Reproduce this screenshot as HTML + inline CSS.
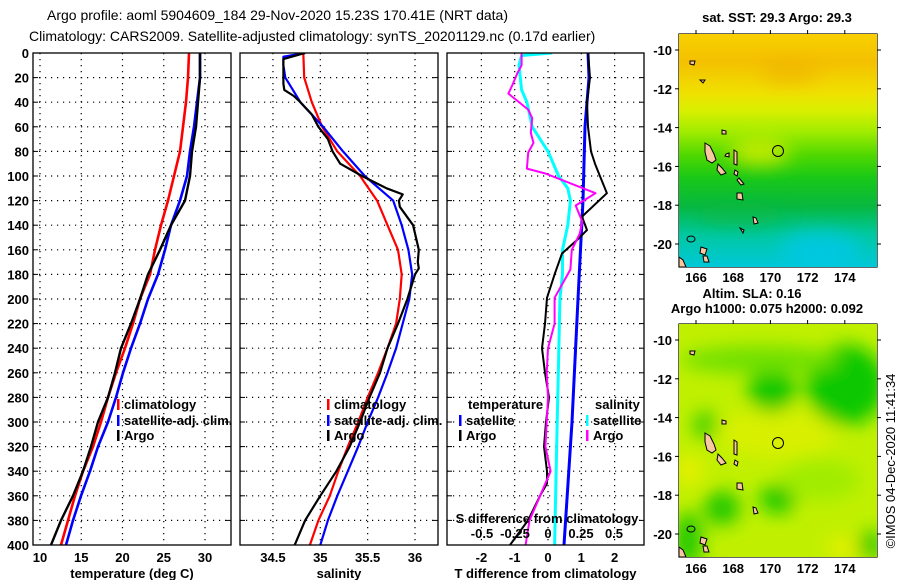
<!DOCTYPE html>
<html><head><meta charset="utf-8">
<style>
html,body{margin:0;padding:0;background:#fff;}
svg{display:block;font-family:"Liberation Sans",Arial,sans-serif;font-weight:bold;font-size:13px;}
</style></head>
<body>
<svg id="fig" width="900" height="580" viewBox="0 0 900 580" xmlns="http://www.w3.org/2000/svg">
<defs>
<clipPath id="c1"><rect x="33" y="53" width="198" height="492"/></clipPath>
<clipPath id="c2"><rect x="240" y="53" width="198" height="492"/></clipPath>
<clipPath id="c3"><rect x="447" y="53" width="197" height="492"/></clipPath>
<clipPath id="cm1"><rect x="679" y="34" width="198" height="233"/></clipPath>
<clipPath id="cm2"><rect x="679" y="324" width="198" height="233"/></clipPath>
<linearGradient id="sst" x1="0" y1="0" x2="0" y2="1">
<stop offset="0" stop-color="#f8d000"/><stop offset="0.12" stop-color="#f4c000"/>
<stop offset="0.25" stop-color="#f0e000"/><stop offset="0.33" stop-color="#d8f000"/>
<stop offset="0.42" stop-color="#a0ec00"/><stop offset="0.52" stop-color="#50d800"/>
<stop offset="0.62" stop-color="#18c818"/><stop offset="0.74" stop-color="#08b840"/>
<stop offset="0.86" stop-color="#00c8a0"/><stop offset="1" stop-color="#00c8d8"/>
</linearGradient>
<filter id="blur" x="-50%" y="-50%" width="200%" height="200%"><feGaussianBlur stdDeviation="9"/></filter>
</defs>

<text x="47" y="20" font-weight="normal" font-size="14">Argo profile: aoml 5904609_184 29-Nov-2020 15.23S 170.41E (NRT data)</text>
<text x="29" y="41" font-weight="normal" font-size="14">Climatology: CARS2009. Satellite-adjusted climatology: synTS_20201129.nc (0.17d earlier)</text>

<g id="grid"></g>
<g id="lines"></g>
<g id="frames"></g>
<g id="labels"></g>

<g>
<rect x="117" y="399" width="2.5" height="11" fill="#f00"/><text x="124" y="409">climatology</text>
<rect x="117" y="415" width="2.5" height="11" fill="#00f"/><text x="124" y="425">satellite-adj. clim.</text>
<rect x="117" y="430" width="2.5" height="11" fill="#000"/><text x="124" y="440">Argo</text>
</g>
<g>
<rect x="327" y="399" width="2.5" height="11" fill="#f00"/><text x="334" y="409">climatology</text>
<rect x="327" y="415" width="2.5" height="11" fill="#00f"/><text x="334" y="425">satellite-adj. clim.</text>
<rect x="327" y="430" width="2.5" height="11" fill="#000"/><text x="334" y="440">Argo</text>
</g>
<g>
<text x="468" y="409">temperature</text><text x="595" y="409">salinity</text>
<rect x="459" y="415" width="2.5" height="11" fill="#00f"/><text x="466" y="425">satellite</text>
<rect x="459" y="430" width="2.5" height="11" fill="#000"/><text x="466" y="440">Argo</text>
<rect x="586" y="415" width="2.5" height="11" fill="#0ff"/><text x="593" y="425">satellite</text>
<rect x="586" y="430" width="2.5" height="11" fill="#f0f"/><text x="593" y="440">Argo</text>
<text x="547" y="523" text-anchor="middle">S difference from climatology</text>
</g>

<g>
<text x="777" y="22" text-anchor="middle">sat. SST: 29.3 Argo: 29.3</text>
<g clip-path="url(#cm1)">
<rect x="679" y="34" width="198" height="233" fill="url(#sst)"/>
<ellipse cx="760" cy="152" rx="30" ry="14" fill="#e8f000" opacity="0.7" filter="url(#blur)"/>
<ellipse cx="790" cy="72" rx="30" ry="12" fill="#f0b000" opacity="0.6" filter="url(#blur)"/>
<ellipse cx="820" cy="250" rx="40" ry="18" fill="#00c8e8" opacity="0.8" filter="url(#blur)"/>
<ellipse cx="740" cy="215" rx="45" ry="12" fill="#08b840" opacity="0.5" filter="url(#blur)"/>
</g>
<g class="isl" fill="#f8c8a0" stroke="#000" stroke-width="1">
<path d="M705,143 L710,146 L714,154 L716,160 L712,163 L707,160 L705,152Z"/>
<path d="M718,164 L722,168 L726,173 L721,175 L717,170Z"/>
<path d="M734,150 L737,152 L737,165 L734,164Z"/>
<path d="M737,193 L742,193 L743,200 L737,199Z"/>
<path d="M753,217 L756,218 L758,223 L754,224Z"/>
<path d="M722,130 L726,131 L726,134 L722,134Z"/>
<path d="M726,154 L729,153 L729,157 L725,156Z"/>
<path d="M735,170 L738,172 L737,176 L734,174Z"/>
<path d="M739,178 L744,184 L741,185 L737,180Z"/>
<path d="M690,61 L695,61 L694,65 L690,64Z"/>
<path d="M700,80 L705,80 L703,83Z"/>
<path d="M703,256 L707,256 L709,262 L704,262Z"/>
<path d="M679,257 L683,260 L686,267 L679,267Z"/>
<path d="M740,228 L744,230 L743,233Z"/>
<path d="M701,247 L707,249 L705,255 L700,253Z"/>
<ellipse cx="691" cy="239" rx="4" ry="3" fill="none"/>
</g>
<circle cx="778" cy="151" r="5.5" fill="none" stroke="#000" stroke-width="1"/>
</g>

<g>
<text x="752" y="298" text-anchor="middle">Altim. SLA: 0.16</text>
<text x="767" y="313" text-anchor="middle">Argo h1000: 0.075 h2000: 0.092</text>
<g clip-path="url(#cm2)">
<rect x="679" y="324" width="198" height="233" fill="#c0f000"/>
<g filter="url(#blur)">
<ellipse cx="778" cy="433" rx="60" ry="25" fill="#d8f000"/>
<ellipse cx="772" cy="390" rx="24" ry="22" fill="#10c800"/>
<ellipse cx="846" cy="385" rx="40" ry="40" fill="#10c800"/>
<ellipse cx="760" cy="360" rx="80" ry="14" fill="#70e000"/>
<ellipse cx="778" cy="499" rx="18" ry="14" fill="#10c800"/>
<ellipse cx="722" cy="508" rx="18" ry="17" fill="#20c800"/>
<ellipse cx="688" cy="540" rx="14" ry="28" fill="#20c800"/>
<ellipse cx="705" cy="425" rx="12" ry="14" fill="#40d000"/>
<ellipse cx="689" cy="470" rx="14" ry="14" fill="#e8f000"/>
<ellipse cx="845" cy="548" rx="18" ry="10" fill="#e8f000"/>
<ellipse cx="870" cy="545" rx="12" ry="14" fill="#20c800"/>
<ellipse cx="820" cy="480" rx="40" ry="20" fill="#a0ec00"/>
</g>
</g>
<g class="isl" fill="#f8c8a0" stroke="#000" stroke-width="1">
<path d="M705,433 L710,436 L714,444 L716,450 L712,453 L707,450 L705,442Z"/>
<path d="M718,454 L722,458 L726,463 L721,465 L717,460Z"/>
<path d="M734,440 L737,442 L737,455 L734,454Z"/>
<path d="M737,483 L742,483 L743,490 L737,489Z"/>
<path d="M753,507 L756,508 L758,513 L754,514Z"/>
<path d="M722,420 L726,421 L726,424 L722,424Z"/>
<path d="M735,460 L738,462 L737,466 L734,464Z"/>
<path d="M690,351 L695,351 L694,355 L690,354Z"/>
<path d="M703,546 L707,546 L709,552 L704,552Z"/>
<path d="M679,547 L683,550 L686,557 L679,557Z"/>
<path d="M701,537 L707,539 L705,545 L700,543Z"/>
<ellipse cx="691" cy="529" rx="4" ry="3" fill="none"/>
</g>
<circle cx="778" cy="443" r="5.5" fill="none" stroke="#000" stroke-width="1"/>
</g>
<text transform="translate(895,461) rotate(-90)" text-anchor="middle" font-weight="normal" font-size="13">©IMOS 04-Dec-2020 11:41:34</text>

<script>
const depthStd = [0,20,40,60,80,100,120,140,160,180,200,220,240,260,280,300,320,340,360,380,400];
const tempClim = [28.06,27.94,27.70,27.33,26.97,26.24,25.52,24.67,23.94,23.33,22.12,21.27,20.30,19.21,18.24,17.39,16.42,15.21,14.24,13.39,12.55];
const tempSat  = [29.39,29.39,29.03,28.67,28.18,27.82,26.97,25.88,25.15,24.30,23.09,22.12,21.03,20.06,19.21,18.24,17.03,16.06,14.97,14.00,13.15];
const tempArgo = [29.39,29.39,29.15,28.91,28.42,28.18,27.58,25.88,24.55,23.09,22.12,21.03,19.82,19.09,18.24,17.03,16.18,15.21,14.00,12.55,11.33];

const salClim = [34.82,34.83,34.91,35.02,35.18,35.42,35.60,35.71,35.82,35.86,35.84,35.80,35.71,35.61,35.50,35.40,35.29,35.19,35.10,34.98,34.89];
const salSatDepth = [0,3,10,20,40,60,80,100,120,140,160,180,200,220,240,260,280,300,320,340,360,380,400];
const salSat = [34.84,34.61,34.61,34.63,34.79,35.03,35.24,35.47,35.77,35.86,35.93,35.97,35.94,35.87,35.80,35.71,35.61,35.50,35.40,35.29,35.18,35.08,35.00];
const salArgoDepth = [0,5,20,25,30,35,40,50,60,70,80,90,100,110,115,120,125,140,160,170,175,180,200,220,240,260,280,300,320,340,360,380,400];
const salArgo = [34.84,34.61,34.61,34.61,34.62,34.72,34.79,34.91,34.98,35.08,35.13,35.21,35.44,35.70,35.87,35.83,35.84,35.98,36.04,36.03,36.04,36.00,35.92,35.82,35.71,35.63,35.52,35.42,35.31,35.17,35.00,34.84,34.73];

const dTSatDepth = [0,20,60,120,200,300,400];
const dTSat = [1.2,1.23,1.11,1.05,0.9,0.72,0.48];
const dTArgoDepth = [0,20,40,60,80,90,100,110,114,133,144,152,163,179,199,220,240,260,280,300,320,340,350,360,380,400];
const dTArgo = [1.2,1.26,1.17,1.2,1.29,1.41,1.56,1.71,1.77,1.02,1.17,0.87,0.42,0.21,-0.03,-0.09,-0.18,-0.09,0.03,-0.06,-0.12,-0.03,-0.03,-0.24,-0.6,-1.14];
const dSSatDepth = [0,2,10,30,40,60,80,100,110,120,140,160,180,200,250,300,350,400];
const dSSat = [0.03,-0.2,-0.22,-0.2,-0.16,-0.12,0.0,0.08,0.15,0.17,0.15,0.11,0.11,0.09,0.08,0.07,0.06,0.05];
const dSArgoDepth = [0,10,16,26,33,46,53,65,73,81,94,98,114,124,132,137,147,160,176,199,220,240,260,280,300,320,340,360,380,400];
const dSArgo = [-0.2,-0.2,-0.23,-0.27,-0.3,-0.15,-0.12,-0.13,-0.11,-0.15,-0.16,-0.02,0.36,0.21,0.24,0.26,0.24,0.18,0.17,0.05,0.05,0.0,-0.01,0.0,-0.01,-0.02,0.02,-0.06,-0.14,-0.17];

const depthTicks = [0,20,40,60,80,100,120,140,160,180,200,220,240,260,280,300,320,340,360,380,400];
const tempTicks = [10,15,20,25,30];
const salTicks = [34.5,35,35.5,36];
const salTickLabels = ["34.5","35","35.5","36"];
const dTTicks = [-2,-1,0,1,2];
const dSTicks = [-0.5,-0.25,0,0.25,0.5];
const dSTickLabels = ["-0.5","-0.25","0","0.25","0.5"];
const lonTicks = [166,168,170,172,174];
const latTicks = [-10,-12,-14,-16,-18,-20];

const yD = d => 53 + d*1.23;
const xT = t => 40 + (t-10)*8.25;
const xS = s => 320.3 + (s-35)*94.7;
const xDT = t => 548 + t*33.3;
const xDS = s => 548 + s*132;
const xLon = l => 696 + (l-166)*18.6;
const yLat1 = l => 50 + (-10-l)*19.4;
const yLat2 = l => 340 + (-10-l)*19.4;

const NS = "http://www.w3.org/2000/svg";
function mk(tag, parent, attrs){ const e=document.createElementNS(NS,tag); for(const k in attrs) e.setAttribute(k,attrs[k]); parent.appendChild(e); return e; }

const grid = document.getElementById('grid');
const lines = document.getElementById('lines');
const frames = document.getElementById('frames');
const labels = document.getElementById('labels');

const panels = [
  {x0:33,w:198,xs:xT,ticks:tempTicks,tl:tempTicks.map(String),title:"temperature (deg C)",name:"temperature"},
  {x0:240,w:198,xs:xS,ticks:salTicks,tl:salTickLabels,title:"salinity",name:"salinity"},
  {x0:447,w:197,xs:xDT,ticks:dTTicks,tl:dTTicks.map(String),title:"T difference from climatology",name:"difference"}
];
const dash = {stroke:"#000","stroke-width":1.2,"stroke-dasharray":"1.2,4.8",fill:"none"};
panels.forEach((p,i)=>{
  depthTicks.forEach(d=>{
    if(d===0||d===400) return;
    const l = mk('line',grid,Object.assign({x1:p.x0,x2:p.x0+p.w,y1:yD(d),y2:yD(d)},dash));
    
    
    mk('line',grid,{x1:p.x0,x2:p.x0+5,y1:yD(d),y2:yD(d),stroke:"#000"});
    mk('line',grid,{x1:p.x0+p.w-5,x2:p.x0+p.w,y1:yD(d),y2:yD(d),stroke:"#000"});
  });
  p.ticks.forEach((t,j)=>{
    const x = p.xs(t);
    const l = mk('line',grid,Object.assign({x1:x,x2:x,y1:53,y2:545},dash));
    
    
    const tx = mk('text',labels,{x:x,y:562,"text-anchor":"middle"});
    tx.textContent = p.tl[j];
    
    
  });
  const r = mk('rect',frames,{x:p.x0,y:53,width:p.w,height:492,fill:"none",stroke:"#000","stroke-width":1.3});
  
  
  const tt = mk('text',labels,{x:p.x0+p.w/2,y:578,"text-anchor":"middle"});
  tt.textContent = p.title;
  
  
});
depthTicks.forEach(d=>{
  const t = mk('text',labels,{x:29,y:yD(d)+5,"text-anchor":"end"});
  t.textContent = d;
  
  
});
dSTicks.forEach((s,j)=>{
  const t = mk('text',labels,{x:xDS(s),y:538,"text-anchor":"middle"});
  t.textContent = dSTickLabels[j];
  
  
});

function series(xs, vals, depths, color, w, clip, name){
  const pts = vals.map((v,i)=>xs(v).toFixed(1)+','+yD(depths[i]).toFixed(1)).join(' ');
  const pl = mk('polyline',lines,{points:pts,fill:"none",stroke:color,"stroke-width":w,"clip-path":"url(#"+clip+")","stroke-linejoin":"round"});
  
  
}
series(xT,tempClim,depthStd,"#f00",2.6,"c1","temperature-climatology-line");
series(xT,tempSat,depthStd,"#00f",2.6,"c1","temperature-satellite-line");
series(xT,tempArgo,depthStd,"#000",2.4,"c1","temperature-argo-line");
series(xS,salClim,depthStd,"#f00",2.2,"c2","salinity-climatology-line");
series(xS,salSat,salSatDepth,"#00f",2.2,"c2","salinity-satellite-line");
series(xS,salArgo,salArgoDepth,"#000",2.2,"c2","salinity-argo-line");
series(xDT,dTSat,dTSatDepth,"#00f",3,"c3","t-diff-satellite-line");
series(xDS,dSSat,dSSatDepth,"#0ff",3,"c3","s-diff-satellite-line");
series(xDT,dTArgo,dTArgoDepth,"#000",2,"c3","t-diff-argo-line");
series(xDS,dSArgo,dSArgoDepth,"#f0f",2,"c3","s-diff-argo-line");

[[34,yLat1,282],[324,yLat2,573]].forEach((m,k)=>{
  const top=m[0], yl=m[1];
  const r = mk('rect',frames,{x:679,y:top,width:198,height:233,fill:"none",stroke:"#000","stroke-width":1.2});
  
  
  lonTicks.forEach(l=>{
    mk('line',frames,{x1:xLon(l),x2:xLon(l),y1:top-4,y2:top,stroke:"#000"});
    const t = mk('text',labels,{x:xLon(l),y:m[2],"text-anchor":"middle"});
    t.textContent = l;
    
    
  });
  latTicks.forEach(l=>{
    mk('line',frames,{x1:877,x2:881,y1:yl(l),y2:yl(l),stroke:"#000"});
    mk('line',frames,{x1:675,x2:679,y1:yl(l),y2:yl(l),stroke:"#000"});
    const t = mk('text',labels,{x:672,y:yl(l)+5,"text-anchor":"end"});
    t.textContent = l;
    
    
  });
});
</script>
</svg>
</body></html>
